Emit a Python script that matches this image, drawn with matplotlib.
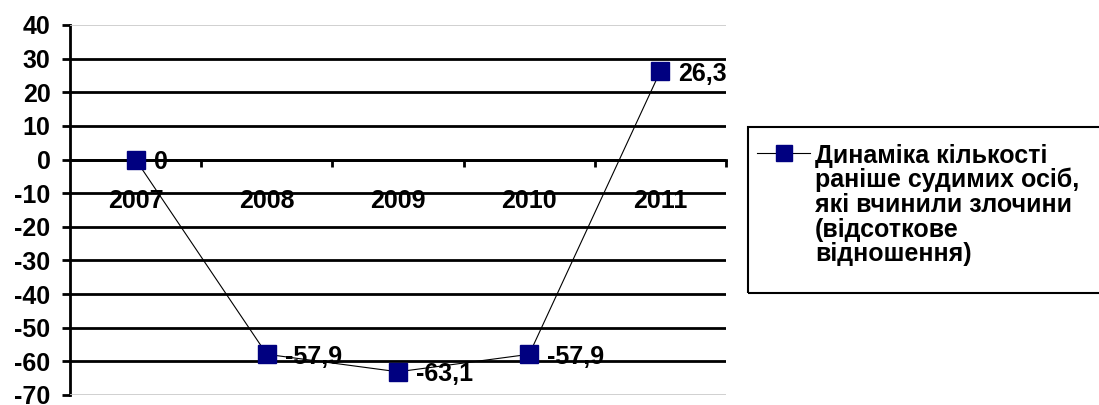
import matplotlib
matplotlib.use("Agg")
import matplotlib.pyplot as plt
from matplotlib.lines import Line2D
from matplotlib.patches import Rectangle
import numpy as np

years = ["2007", "2008", "2009", "2010", "2011"]
values = [0, -57.9, -63.1, -57.9, 26.3]
value_labels = ["0", "-57,9", "-63,1", "-57,9", "26,3"]
y_ticks = list(range(-70, 41, 10))
legend_lines = ["Динаміка кількості", "раніше судимих осіб,",
                "які вчинили злочини", "(відсоткове", "відношення)"]

plt.rcParams['font.family'] = ['Liberation Sans', 'DejaVu Sans']
plt.rcParams['font.weight'] = 'bold'
FS = 18

W, H = 1099, 405
fig = plt.figure(figsize=(W / 100, H / 100), dpi=100)
ax = fig.add_axes([70 / W, 1 - 395 / H, 656 / W, 370 / H])

x = np.arange(len(years))
ax.set_xlim(-0.5, len(years) - 0.5)
ax.set_ylim(-70, 40)

# сітка
for yv in y_ticks:
    if yv in (-70, 40):
        ax.axhline(yv, color='#c8c8c8', lw=1.2, zorder=3)
    else:
        ax.axhline(yv, color='black', lw=2, zorder=3)

ax.plot(x, values, color='black', lw=0.8, marker='s', markersize=12.5,
        markerfacecolor='#000080', markeredgecolor='#000080', zorder=5)

for xi, v, s in zip(x, values, value_labels):
    ax.annotate(s, (xi, v), xytext=(13, 0), textcoords='offset points',
                ha='left', va='center_baseline', fontsize=FS, fontweight='bold', zorder=6)

ax.set_yticks(y_ticks)
ax.set_yticklabels([str(t) for t in y_ticks], fontsize=FS, fontweight='bold')
ax.tick_params(axis='y', length=6, width=2, pad=8)

ax.spines['right'].set_visible(False)
ax.spines['top'].set_visible(False)
ax.spines['left'].set_linewidth(2)
ax.spines['bottom'].set_position(('data', 0))
ax.spines['bottom'].set_linewidth(2)

ax.set_xticks(x)
ax.set_xticklabels(years, fontsize=FS, fontweight='bold')
ax.set_xticks(np.arange(0.5, len(years), 1.0), minor=True)
ax.tick_params(axis='x', which='major', length=0, pad=21)
ax.tick_params(axis='x', which='minor', length=5, width=2, direction='out')

# легенда
fig.add_artist(Rectangle((748 / W, 1 - 293 / H), 400 / W, 166 / H,
                         transform=fig.transFigure, fill=False,
                         edgecolor='black', lw=1.5))
fig.add_artist(Line2D([757 / W, 810 / W], [1 - 153 / H] * 2,
                      transform=fig.transFigure, color='black', lw=0.8))
fig.add_artist(Line2D([784 / W], [1 - 153 / H], transform=fig.transFigure,
                      marker='s', markersize=11, color='#000080'))
for i, s in enumerate(legend_lines):
    fig.text(815 / W, 1 - (153 + 24.7 * i) / H, s, fontsize=FS,
             fontweight='bold', ha='left', va='center_baseline')

fig.savefig("out.png", dpi=100)
